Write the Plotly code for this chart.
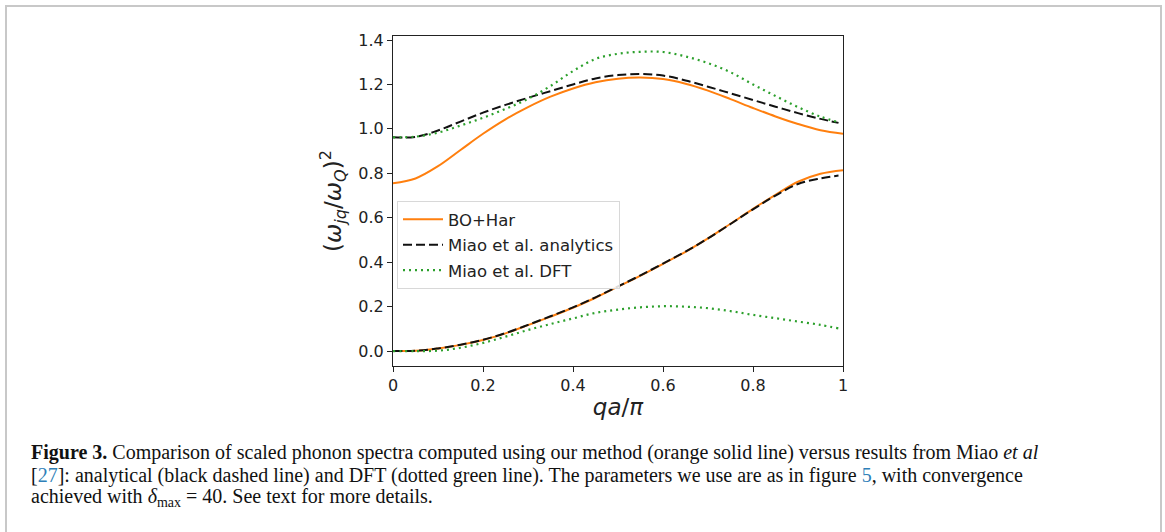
import plotly.graph_objects as go

# ---------------- data ----------------
q_grid = [0, 0.05, 0.1, 0.15, 0.2, 0.25, 0.3, 0.35, 0.4, 0.45, 0.5,
          0.55, 0.6, 0.65, 0.7, 0.75, 0.8, 0.85, 0.9, 0.95, 1.0]
q_miao = [0, 0.05, 0.1, 0.15, 0.2, 0.25, 0.3, 0.35, 0.4, 0.45, 0.5,
          0.55, 0.6, 0.65, 0.7, 0.75, 0.8, 0.85, 0.9, 0.95, 0.99]

bo_upper = [0.755, 0.777, 0.832, 0.905, 0.978, 1.043, 1.098, 1.145, 1.182, 1.210, 1.226,
            1.231, 1.224, 1.203, 1.172, 1.134, 1.094, 1.056, 1.022, 0.994, 0.978]
bo_lower = [0.000, 0.002, 0.012, 0.028, 0.050, 0.080, 0.117, 0.155, 0.195, 0.240, 0.290,
            0.340, 0.393, 0.447, 0.507, 0.573, 0.640, 0.703, 0.762, 0.798, 0.814]

an_upper = [0.962, 0.964, 0.993, 1.033, 1.073, 1.108, 1.140, 1.170, 1.200, 1.227, 1.242,
            1.247, 1.240, 1.218, 1.190, 1.160, 1.130, 1.100, 1.071, 1.045, 1.027]
an_lower = [0.000, 0.002, 0.012, 0.029, 0.051, 0.081, 0.118, 0.157, 0.197, 0.242, 0.291,
            0.341, 0.394, 0.448, 0.507, 0.572, 0.638, 0.700, 0.752, 0.777, 0.790]

dft_upper = [0.962, 0.965, 0.983, 1.015, 1.050, 1.090, 1.135, 1.193, 1.260, 1.315, 1.338,
             1.347, 1.346, 1.326, 1.296, 1.255, 1.200, 1.148, 1.098, 1.055, 1.030]
dft_lower = [0.000, 0.000, 0.002, 0.015, 0.037, 0.065, 0.095, 0.122, 0.147, 0.172, 0.187,
             0.197, 0.202, 0.200, 0.193, 0.180, 0.163, 0.148, 0.133, 0.118, 0.102]

series_names = ["BO+Har", "Miao et al. analytics", "Miao et al. DFT"]
x_tick_vals = [0, 0.2, 0.4, 0.6, 0.8, 1.0]
x_tick_text = ["0", "0.2", "0.4", "0.6", "0.8", "1"]
y_tick_vals = [0.0, 0.2, 0.4, 0.6, 0.8, 1.0, 1.2, 1.4]

caption_lines = [
    "<b>Figure 3.</b> Comparison of scaled phonon spectra computed using our method (orange solid line) versus results from Miao <i>et al</i>",
    "[<span style='color:#2e7fb8'>27</span>]: analytical (black dashed line) and DFT (dotted green line). The parameters we use are as in figure <span style='color:#2e7fb8'>5</span>, with convergence",
    "achieved with <i>δ</i><sub>max</sub> = 40. See text for more details.",
]

# ---------------- geometry ----------------
W, H = 1165, 532
L, R, T, B = 393, 843, 36, 366
PW, PH = R - L, B - T


def px(x):
    return (x - L) / PW


def py(y):
    return (B - y) / PH


fig = go.Figure()

styles = [
    dict(color="#ff7f0e", width=2, dash="solid"),
    dict(color="#111111", width=2, dash="9px,4px"),
    dict(color="#2ca02c", width=2.2, dash="2px,4px"),
]
data = [(q_grid, bo_upper, bo_lower), (q_miao, an_upper, an_lower), (q_miao, dft_upper, dft_lower)]

for i, (name, st, (qq, up, lo)) in enumerate(zip(series_names, styles, data)):
    for j, yy in enumerate([lo, up]):
        fig.add_trace(go.Scatter(
            x=qq, y=yy, mode="lines", name=name,
            line=dict(color=st["color"], width=st["width"], dash=st["dash"], shape="spline", smoothing=1.0),
            legendgroup=name, showlegend=(j == 0),
        ))

axis_common = dict(
    showgrid=False, zeroline=False, showline=True, linecolor="#222", linewidth=1,
    mirror=True, ticks="outside", ticklen=5, tickwidth=1, tickcolor="#222",
    tickfont=dict(family="DejaVu Sans", size=16, color="#222"),
)

fig.update_layout(
    width=W, height=H,
    margin=dict(l=L, r=W - R, t=T, b=H - B, pad=0),
    paper_bgcolor="white", plot_bgcolor="white",
    xaxis=dict(range=[0, 1], tickvals=x_tick_vals, ticktext=x_tick_text,
               title=dict(text="<i>qa</i>/<i>π</i>", font=dict(family="DejaVu Sans", size=23, color="#222"), standoff=4),
               **axis_common),
    yaxis=dict(range=[-0.067, 1.418], tickvals=y_tick_vals, tickformat=".1f",
               title=dict(text="(<i>ω</i><sub><i>jq</i></sub>/<i>ω</i><sub><i>Q</i></sub>)<sup>2</sup>",
                          font=dict(family="DejaVu Sans", size=23, color="#222"), standoff=10),
               **axis_common),
    legend=dict(x=px(397), y=py(201), xanchor="left", yanchor="top",
                bgcolor="rgba(255,255,255,0.85)", bordercolor="#d8d8d8", borderwidth=1,
                font=dict(family="DejaVu Sans", size=16.5, color="#222"),
                tracegroupgap=1, traceorder="grouped", itemwidth=40),
    showlegend=True,
)

# outer frame
fig.add_shape(type="rect", xref="paper", yref="paper",
              x0=px(6), x1=px(1161), y0=py(545), y1=py(6),
              line=dict(color="#c8c8c8", width=2), layer="below")

# caption
for k, (line, ypix) in enumerate(zip(caption_lines, [452, 475, 498])):
    fig.add_annotation(text=line, xref="paper", yref="paper", x=px(29), y=py(ypix),
                       xanchor="left", yanchor="middle", showarrow=False, align="left",
                       font=dict(family="Liberation Serif", size=20, color="#111"))

fig.write_html("out.html")
